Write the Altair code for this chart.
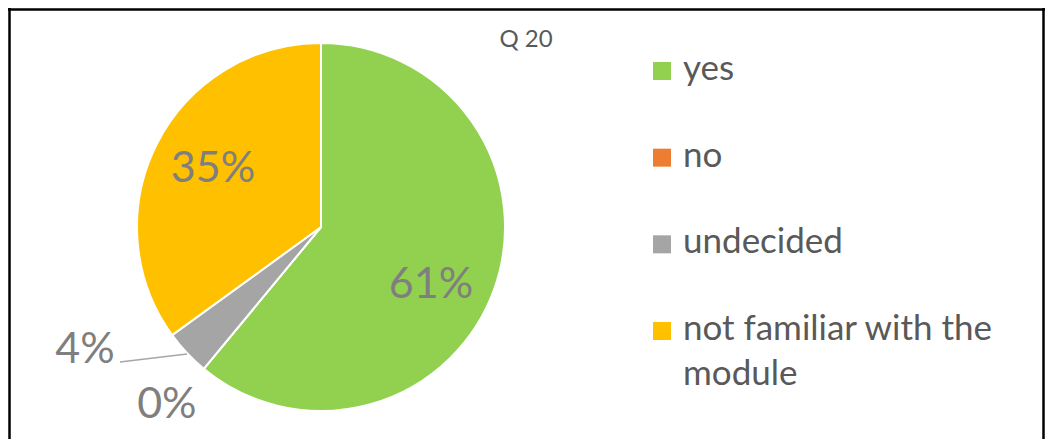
import math
import altair as alt
import pandas as pd

# ---- data ----
categories = ["yes", "no", "undecided", "not familiar with the module"]
legend_labels = ["yes", "no", "undecided", "not familiar with the\nmodule"]
values = [61, 0, 4, 35]
pct_labels = ["61%", "0%", "4%", "35%"]
colors = ["#92D050", "#ED7D31", "#A5A5A5", "#FFC000"]
title_text = "Q 20"

# ---- layout (pixels in chart coordinates) ----
W, H = 1037, 431
CX, CY, R = 313, 219, 184
# label placement relative to pie center: angle (deg, clockwise from top), radius
label_angle = [117.8, 220.9, 242.5, 298.2]
label_radius = [124.4, 235.4, 266.1, 122.6]

FONT = "Lato"

df = pd.DataFrame({
    "category": categories,
    "legend": legend_labels,
    "value": values,
    "pct": pct_labels,
    "idx": list(range(len(categories))),
})
df["lx"] = [CX + r * math.sin(math.radians(a)) for a, r in zip(label_angle, label_radius)]
df["ly"] = [CY - r * math.cos(math.radians(a)) for a, r in zip(label_angle, label_radius)]

color_scale = alt.Scale(domain=categories, range=colors)
base = alt.Chart(df)

pie = base.mark_arc(radius=R, stroke="white", strokeWidth=2).encode(
    theta=alt.Theta("value:Q", stack=True),
    color=alt.Color("category:N", scale=color_scale, legend=None),
    order=alt.Order("idx:Q"),
    x=alt.value(CX),
    y=alt.value(CY),
)

leader = base.transform_filter(alt.datum.category == "undecided").mark_rule(
    color="#A6A6A6", strokeWidth=1.5
).encode(x=alt.value(112), y=alt.value(354), x2=alt.value(179), y2=alt.value(346))

labels = base.mark_text(font=FONT, fontSize=43, color="#7F7F7F", align="center", baseline="middle").encode(
    x=alt.X("lx:Q", scale=None),
    y=alt.Y("ly:Q", scale=None),
    text="pct:N",
)

leg_y = alt.Y("idx:Q", scale=alt.Scale(domain=[0, 3], range=[63, 323]), axis=None)
leg_sq = base.mark_square(size=324, opacity=1).encode(
    x=alt.value(654),
    y=leg_y,
    color=alt.Color("category:N", scale=color_scale, legend=None),
)
leg_txt = base.mark_text(font=FONT, fontSize=35, color="#595959", align="left",
                         baseline="top", lineBreak="\n", lineHeight=45, dy=-19).encode(
    x=alt.value(675),
    y=leg_y,
    text="legend:N",
)

title = base.transform_filter(alt.datum.idx == 0).mark_text(
    font=FONT, fontSize=24, color="#595959", align="center", baseline="middle", text=title_text
).encode(x=alt.value(518), y=alt.value(32))

border_left = base.transform_filter(alt.datum.idx == 0).mark_rule(color="black", strokeWidth=2.5).encode(
    x=alt.value(1.5), y=alt.value(0), y2=alt.value(H))
border_top = base.transform_filter(alt.datum.idx == 0).mark_rule(color="black", strokeWidth=2.5).encode(
    x=alt.value(0), x2=alt.value(W), y=alt.value(1.5))
border_right = base.transform_filter(alt.datum.idx == 0).mark_rule(color="black", strokeWidth=2.5).encode(
    x=alt.value(W - 1.5), y=alt.value(0), y2=alt.value(H))

chart = alt.layer(
    pie, leader, labels, leg_sq, leg_txt, title, border_left, border_top, border_right
).resolve_scale(x="independent", y="independent").properties(
    width=W, height=H, autosize=alt.AutoSizeParams(type="none"), padding=0
).configure_view(stroke=None)

chart.save("out.html", embed_options={"renderer": "svg", "actions": False})
